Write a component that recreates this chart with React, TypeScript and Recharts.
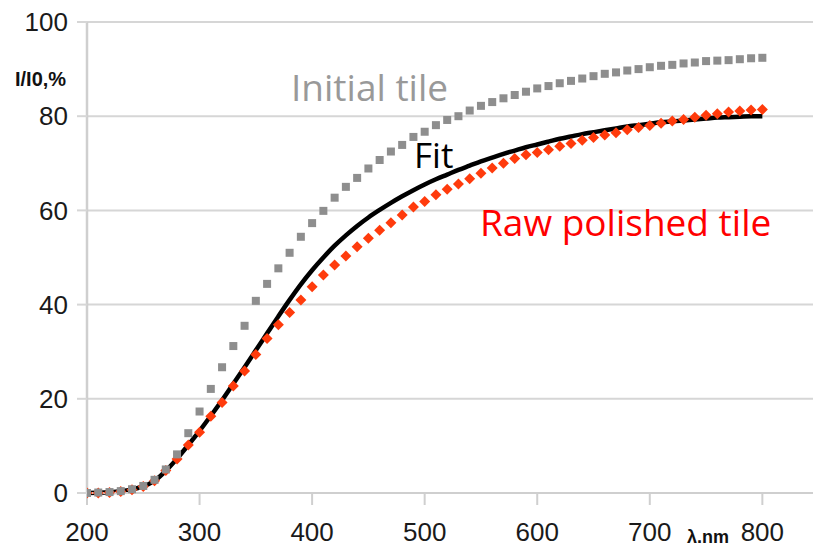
import React from "react";
import { ComposedChart, Line, Scatter, XAxis, YAxis, CartesianGrid } from "recharts";

const wavelengths = [
  200, 210, 220, 230, 240, 250, 260, 270, 280, 290, 300, 310, 320, 330, 340, 350, 360, 370, 380, 390,
  400, 410, 420, 430, 440, 450, 460, 470, 480, 490, 500, 510, 520, 530, 540, 550, 560, 570, 580, 590,
  600, 610, 620, 630, 640, 650, 660, 670, 680, 690, 700, 710, 720, 730, 740, 750, 760, 770, 780, 790, 800,
];

const initialTile = [
  0, 0.1, 0.2, 0.4, 0.8, 1.5, 2.8, 5.0, 8.2, 12.7, 17.3, 22.1, 26.7, 31.2, 35.5, 40.8, 44.4, 47.7, 51.0, 54.4,
  57.3, 59.9, 62.7, 65.0, 66.9, 68.9, 70.7, 72.5, 73.9, 75.6, 76.7, 78.1, 79.2, 80.0, 81.2, 82.2, 83.0, 83.8, 84.5, 85.2,
  85.9, 86.4, 87.0, 87.5, 88.0, 88.5, 89.0, 89.3, 89.7, 90.0, 90.4, 90.7, 90.9, 91.2, 91.4, 91.7, 91.8, 91.9, 92.1, 92.3, 92.4,
];

const rawPolished = [
  0, 0, 0.1, 0.3, 0.7, 1.4, 2.6, 4.8, 7.2, 10.2, 12.9, 16.3, 19.2, 22.7, 25.9, 29.4, 32.8, 35.7, 38.3, 41.0,
  43.8, 46.3, 48.4, 50.3, 52.3, 54.1, 55.8, 57.4, 59.0, 60.7, 61.9, 63.3, 64.5, 65.6, 66.7, 67.9, 69.0, 70.0, 71.0, 71.8,
  72.3, 72.9, 73.6, 74.2, 74.9, 75.5, 76.0, 76.5, 77.1, 77.6, 78.0, 78.5, 79.0, 79.3, 79.8, 80.2, 80.5, 80.9, 81.1, 81.3, 81.4,
];

const fitCurve = [
  0, 0.05, 0.15, 0.35, 0.75, 1.4, 2.6, 4.7, 7.3, 10.2, 13.2, 16.4, 19.7, 23.2, 26.7, 30.3, 33.9, 37.5, 41.0, 44.3,
  47.3, 50.0, 52.5, 54.7, 56.7, 58.5, 60.1, 61.6, 63.0, 64.3, 65.5, 66.6, 67.6, 68.6, 69.5, 70.4, 71.2, 72.0, 72.7, 73.4,
  74.0, 74.6, 75.2, 75.7, 76.2, 76.6, 77.0, 77.4, 77.8, 78.1, 78.4, 78.7, 78.9, 79.1, 79.3, 79.5, 79.7, 79.8, 79.9, 80.0, 80.0,
];

const xTicks = [200, 300, 400, 500, 600, 700, 800];
const yTicks = [0, 20, 40, 60, 80, 100];

const data = wavelengths.map((x, i) => ({
  x,
  initial: initialTile[i],
  raw: rawPolished[i],
  fit: fitCurve[i],
}));

const GraySquare = (props: any) => {
  const { cx, cy } = props;
  if (cx == null || cy == null) return null;
  return <rect x={cx - 4} y={cy - 4} width={8} height={8} fill="#8e8e8e" />;
};

const RedDiamond = (props: any) => {
  const { cx, cy } = props;
  if (cx == null || cy == null) return null;
  const r = 5.5;
  return (
    <polygon
      points={`${cx},${cy - r} ${cx + r},${cy} ${cx},${cy + r} ${cx - r},${cy}`}
      fill="#ff3b0c"
    />
  );
};

const tickFont = { fontFamily: "'Liberation Sans', Arial, sans-serif", fontSize: 26, fill: "#1a1a1a" };

export default function App() {
  return (
    <div style={{ position: "absolute", left: 0, top: 0, width: 813, height: 547, background: "#fff" }}>
      <ComposedChart
        width={813}
        height={547}
        data={data}
        margin={{ top: 22, right: 0, left: 0, bottom: 0 }}
      >
        <CartesianGrid vertical={false} stroke="#d6d6d6" strokeWidth={2} />
        <XAxis
          type="number"
          dataKey="x"
          domain={[200, 845]}
          ticks={xTicks}
          allowDataOverflow
          height={54}
          tickSize={12}
          tickMargin={18}
          axisLine={{ stroke: "#cfcfcf", strokeWidth: 2 }}
          tickLine={{ stroke: "#cfcfcf", strokeWidth: 2 }}
          tick={tickFont}
        />
        <YAxis
          type="number"
          domain={[0, 100]}
          ticks={yTicks}
          width={87}
          tickSize={10}
          tickMargin={9}
          axisLine={{ stroke: "#cfcfcf", strokeWidth: 2.5 }}
          tickLine={{ stroke: "#d6d6d6", strokeWidth: 2 }}
          tick={tickFont}
        />
        <Line
          dataKey="fit"
          type="monotone"
          stroke="#000"
          strokeWidth={4.5}
          dot={false}
          isAnimationActive={false}
        />
        <Scatter dataKey="raw" shape={RedDiamond} isAnimationActive={false} />
        <Scatter dataKey="initial" shape={GraySquare} isAnimationActive={false} />
      </ComposedChart>
      <svg
        width={813}
        height={547}
        style={{ position: "absolute", left: 0, top: 0, pointerEvents: "none" }}
      >
        <text x={15} y={86} fontFamily="'Liberation Sans', Arial, sans-serif" fontWeight="bold" fontSize={20} fill="#111">
          I/I0,%
        </text>
        <text x={687} y={543} fontFamily="'Liberation Sans', Arial, sans-serif" fontWeight="bold" fontSize={18} fill="#111">
          λ.nm
        </text>
        <text x={291} y={101} fontFamily="'Open Sans', sans-serif" fontSize={37} fill="#999999">
          Initial tile
        </text>
        <text x={414} y={168} fontFamily="'Open Sans', sans-serif" fontSize={35} fill="#000">
          Fit
        </text>
        <text x={480} y={236} fontFamily="'Open Sans', sans-serif" fontSize={37} fill="#ff0000">
          Raw polished tile
        </text>
      </svg>
    </div>
  );
}
